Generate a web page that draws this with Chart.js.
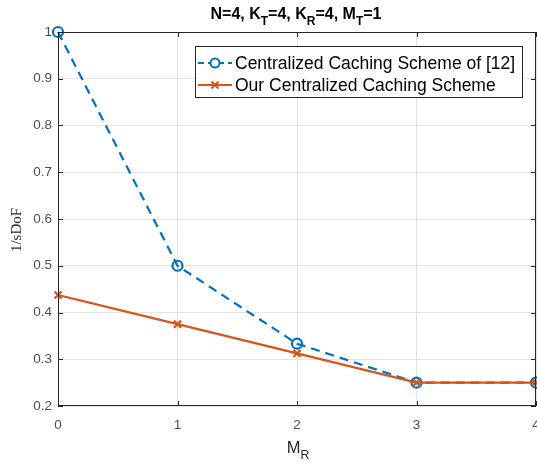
<!DOCTYPE html>
<html>
<head>
<meta charset="utf-8">
<script src="https://cdn.jsdelivr.net/npm/chart.js@4"></script>
<style>
  html, body { margin: 0; padding: 0; background: #fff; }
  #wrap { width: 537px; height: 464px; }
</style>
</head>
<body>
<div id="wrap"><canvas id="c" width="537" height="464"></canvas></div>
<script>
// data
const mrValues = [0, 1, 2, 3, 4];
const refScheme = [1, 0.5, 0.3333, 0.25, 0.25];
const ourScheme = [0.4375, 0.375, 0.3125, 0.25, 0.25];
const seriesNames = ['Centralized Caching Scheme of [12]', 'Our Centralized Caching Scheme'];
const yTicks = [0.2, 0.3, 0.4, 0.5, 0.6, 0.7, 0.8, 0.9, 1];
const xTicks = [0, 1, 2, 3, 4];

const BLUE = '#0072BD';
const ORANGE = '#D95319';
const AXIS = '#262626';
const FONT = '"Liberation Sans", Arial, sans-serif';

// text with subscripts: parts = [[text, isSub], ...]
function drawSubText(ctx, parts, x, y, size, bold, align) {
    const weight = bold ? 'bold ' : '';
    let total = 0;
    parts.forEach(p => {
        ctx.font = weight + (p[1] ? size * 0.75 : size) + 'px ' + FONT;
        total += ctx.measureText(p[0]).width;
    });
    let cx = align === 'center' ? x - total / 2 : x;
    ctx.textBaseline = 'alphabetic';
    ctx.textAlign = 'left';
    parts.forEach(p => {
        ctx.font = weight + (p[1] ? size * 0.75 : size) + 'px ' + FONT;
        ctx.fillText(p[0], cx, p[1] ? y + size * 0.38 : y);
        cx += ctx.measureText(p[0]).width;
    });
}

const decor = {
    id: 'decor',
    afterDraw(chart) {
        const ctx = chart.ctx;
        const a = chart.chartArea;
        const xs = chart.scales.x, ys = chart.scales.y;
        ctx.save();
        // box
        ctx.strokeStyle = AXIS;
        ctx.lineWidth = 1;
        ctx.strokeRect(a.left + 0.5, a.top + 0.5, a.right - a.left - 1, a.bottom - a.top - 1);
        // inward ticks
        ctx.beginPath();
        xTicks.forEach(v => {
            const px = Math.round(xs.getPixelForValue(v)) + 0.5;
            ctx.moveTo(px, a.bottom); ctx.lineTo(px, a.bottom - 5);
            ctx.moveTo(px, a.top); ctx.lineTo(px, a.top + 5);
        });
        yTicks.forEach(v => {
            const py = Math.round(ys.getPixelForValue(v)) + 0.5;
            ctx.moveTo(a.left, py); ctx.lineTo(a.left + 5, py);
            ctx.moveTo(a.right, py); ctx.lineTo(a.right - 5, py);
        });
        ctx.stroke();

        // title
        ctx.fillStyle = '#000';
        drawSubText(ctx, [['N=4, K', 0], ['T', 1], ['=4, K', 0], ['R', 1], ['=4, M', 0], ['T', 1], ['=1', 0]],
            296, 19, 16, true, 'center');
        // x label
        ctx.fillStyle = AXIS;
        drawSubText(ctx, [['M', 0], ['R', 1]], 298, 453, 16.5, false, 'center');
        // y label
        ctx.save();
        ctx.translate(21, 230);
        ctx.rotate(-Math.PI / 2);
        ctx.font = '15px "Liberation Serif", "DejaVu Serif", serif';
        ctx.textAlign = 'center';
        ctx.textBaseline = 'alphabetic';
        ctx.fillText('1/sDoF', 0, 0);
        ctx.restore();

        // legend
        const lx = 195, ly = 46, lw = 327, lh = 51;
        ctx.fillStyle = '#fff';
        ctx.fillRect(lx, ly, lw, lh);
        ctx.strokeStyle = '#262626';
        ctx.lineWidth = 1;
        ctx.strokeRect(lx + 0.5, ly + 0.5, lw, lh);
        const rows = [ly + 17, ly + 39];
        // row 1 sample
        ctx.strokeStyle = BLUE;
        ctx.lineWidth = 2;
        ctx.setLineDash([6, 4]);
        ctx.beginPath(); ctx.moveTo(198, rows[0]); ctx.lineTo(232, rows[0]); ctx.stroke();
        ctx.setLineDash([]);
        ctx.fillStyle = '#fff';
        ctx.beginPath(); ctx.arc(215, rows[0], 4.5, 0, Math.PI * 2); ctx.fill(); ctx.stroke();
        // row 2 sample
        ctx.strokeStyle = ORANGE;
        ctx.beginPath(); ctx.moveTo(198, rows[1]); ctx.lineTo(232, rows[1]); ctx.stroke();
        ctx.beginPath();
        ctx.moveTo(211.5, rows[1] - 3.5); ctx.lineTo(218.5, rows[1] + 3.5);
        ctx.moveTo(211.5, rows[1] + 3.5); ctx.lineTo(218.5, rows[1] - 3.5);
        ctx.stroke();
        ctx.fillStyle = '#000';
        ctx.font = '17.5px ' + FONT;
        ctx.textAlign = 'left';
        ctx.textBaseline = 'middle';
        ctx.fillText(seriesNames[0], 235, rows[0] + 1);
        ctx.fillText(seriesNames[1], 235, rows[1] + 1);
        ctx.restore();
    }
};

new Chart(document.getElementById('c'), {
    type: 'line',
    data: {
        datasets: [
            {
                label: seriesNames[1],
                data: mrValues.map((x, i) => ({ x: x, y: ourScheme[i] })),
                borderColor: ORANGE,
                backgroundColor: ORANGE,
                borderWidth: 2.2,
                pointStyle: 'crossRot',
                pointRadius: 5,
                pointBorderWidth: 2.2,
                pointBorderColor: ORANGE,
                tension: 0,
                order: 1
            },
            {
                label: seriesNames[0],
                data: mrValues.map((x, i) => ({ x: x, y: refScheme[i] })),
                borderColor: BLUE,
                backgroundColor: 'rgba(0,0,0,0)',
                borderWidth: 2.2,
                borderDash: [9, 6],
                pointStyle: 'circle',
                pointRadius: 5,
                pointBorderWidth: 2.2,
                pointBorderColor: BLUE,
                pointBackgroundColor: 'rgba(0,0,0,0)',
                tension: 0,
                order: 2
            }
        ]
    },
    options: {
        responsive: false,
        animation: false,
        clip: false,
        layout: { autoPadding: false, padding: { top: 32, right: 1, left: 0, bottom: 0 } },
        plugins: {
            legend: { display: false },
            tooltip: { enabled: false },
            title: { display: false }
        },
        scales: {
            x: {
                type: 'linear',
                min: 0, max: 4,
                afterFit(scale) {
                    scale.height = 58;
                    scale.paddingLeft = 0;
                    scale.paddingRight = 0;
                },
                afterBuildTicks(scale) { scale.ticks = xTicks.map(v => ({ value: v })); },
                grid: { color: '#e3e3e3', drawTicks: false },
                border: { display: false },
                ticks: {
                    padding: 11,
                    color: '#4d4d4d',
                    font: { family: FONT, size: 13.5 },
                    maxRotation: 0
                }
            },
            y: {
                type: 'linear',
                min: 0.2, max: 1,
                afterFit(scale) {
                    scale.width = 58;
                    scale.paddingTop = 0;
                    scale.paddingBottom = 0;
                },
                afterBuildTicks(scale) { scale.ticks = yTicks.map(v => ({ value: v })); },
                grid: { color: '#e3e3e3', drawTicks: false },
                border: { display: false },
                ticks: {
                    padding: 6,
                    color: '#4d4d4d',
                    font: { family: FONT, size: 13.5 },
                    callback: v => String(Math.round(v * 10) / 10)
                }
            }
        }
    },
    plugins: [decor]
});
</script>
</body>
</html>
